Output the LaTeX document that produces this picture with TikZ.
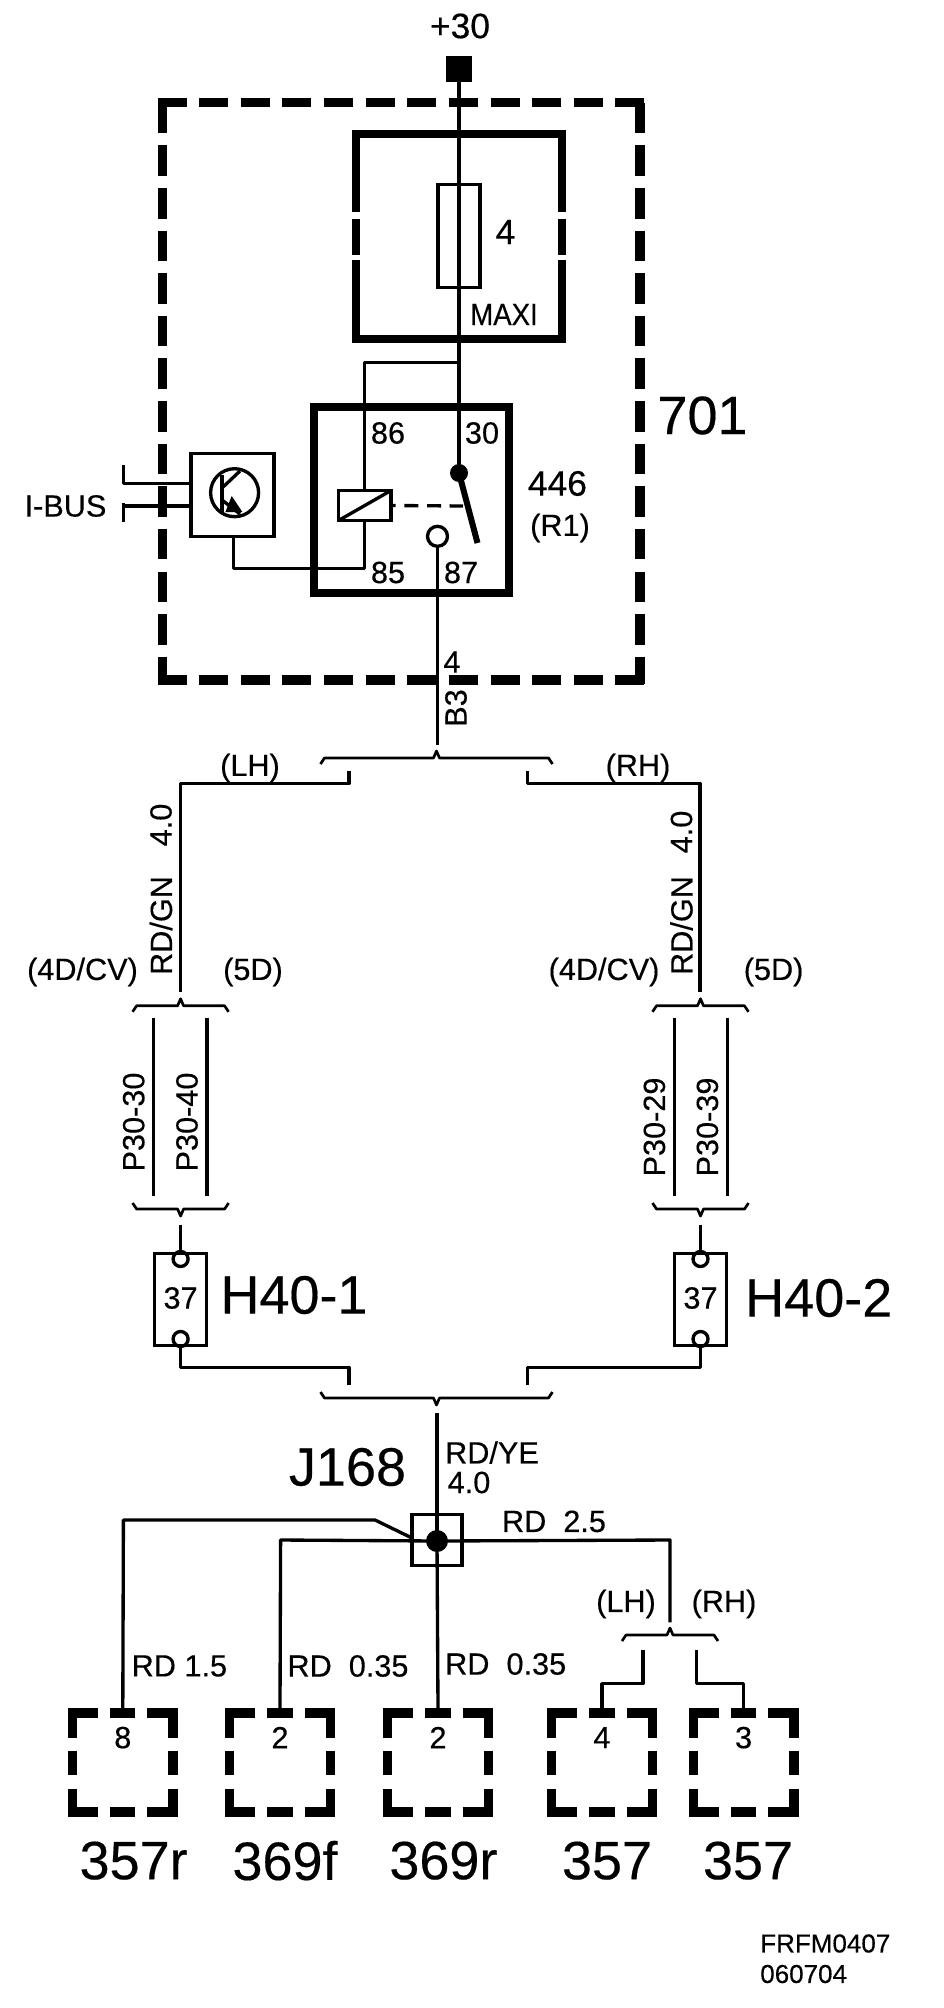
\documentclass[tikz,border=0pt]{standalone}
\usepackage{fontspec}
\setmainfont{Liberation Sans}[FakeBold=0.35]
\tikzset{
    wire/.style={line width=2.5pt,line join=round},
    thinwire/.style={line width=2pt,line join=round},
    thickline/.style={line width=6pt},
    dashline/.style={line width=7pt},
    boxnode/.style 2 args={draw,line width=2.6pt,inner sep=0pt,outer sep=0pt,minimum width=#1*.75pt,minimum height=#2*.75pt},
    ringnode/.style={draw,circle,line width=2.5pt,inner sep=0pt,outer sep=0pt,minimum size=#1*.75pt},
    dotnode/.style={fill=black,circle,inner sep=0pt,outer sep=0pt,minimum size=#1*.75pt},
    labt/.style={inner sep=0pt,font=\fontsize{19.5}{22}\selectfont},
    labs/.style={inner sep=0pt,font=\fontsize{23}{26}\selectfont},
    labm/.style={inner sep=0pt,font=\fontsize{26.5}{30}\selectfont},
    labl/.style={inner sep=0pt,font=\fontsize{40.5}{44}\selectfont},
    vlab/.style={labs,rotate=90},
}
\newcommand\wirebrace[4]{%
    \draw[thinwire] ({#1-#3},{#2-#4*6}) -- ({#1-#3+4},#2) -- ({#1-3},#2) -- (#1,{#2+#4*7}) -- ({#1+3},#2) -- ({#1+#3-4},#2) -- ({#1+#3},{#2-#4*6});
}
\begin{document}
\begin{tikzpicture}[x=.75pt,y=-.75pt]
    \useasboundingbox (0,0) rectangle (944,2008);
    % module 701
    \draw[dashline,dash pattern=on 21.75pt off 9.47pt] (157.5,102.5) -- (645,102.5);
    \draw[dashline,dash pattern=on 21.75pt off 9.47pt] (157.5,680) -- (645,680);
    \draw[dashline,dash pattern=on 22.9pt off 9.05pt] (162.5,102.9) -- (162.5,684);
    \draw[dashline,dash pattern=on 22.9pt off 9.05pt] (640,102.9) -- (640,684);
    % maxi fuse holder
    \draw[thickline] (356,212) -- (356,134) -- (562,134) -- (562,212);
    \draw[thickline] (356,219.5) -- (356,255) (562,219.5) -- (562,255);
    \draw[thickline] (356,260) -- (356,339) -- (562,339) -- (562,260);
    \node[boxnode={41.6}{103}] (fuse) at (459,236) {};
    \node[labm] (fusenum) at (505.5,232) {4};
    \node[labs,xscale=.9] (maxi) at (504,314.5) {MAXI};
    % relay 446
    \node[draw,line width=6pt,inner sep=0pt,outer sep=0pt,minimum width=146.25pt,minimum height=139.5pt] (relay) at (411.5,500) {};
    \node[dotnode=18] (pivot) at (459,473) {};
    \node[boxnode={52.5}{30}] (coil) at (364.8,505.5) {};
    \node[ringnode=20] (pin87) at (437.5,536.3) {};
    \coordinate (armend) at (477.5,543);
    \draw[line width=4.5pt] (pivot.center) -- (armend);
    \draw[wire] (coil.south west) -- (coil.north east);
    \coordinate (armlink) at (463,506);
    \draw[wire,dash pattern=on 10.5pt off 6.5pt,dash phase=7pt] (coil.east) -- (armlink);
    \node[labs] (t86) at (388,433) {86};
    \node[labs] (t30) at (482,433) {30};
    \node[labs] (t85) at (388,572.5) {85};
    \node[labs] (t87) at (461,572.5) {87};
    \node[labm] (t446) at (557.4,483.5) {446};
    \node[labs] (tr1) at (560,528) {(R1)};
    \node[labl] (t701) at (702.5,415.5) {701};
    % bus transistor
    \node[boxnode={83}{83}] (tbox) at (232.7,495) {};
    \node[ringnode=48] (tring) at (234.6,492.7) {};
    \draw[wire] (222,475) -- (222,512);
    \draw[wire] (222,488) -- (240,471);
    \draw[wire] (222,500) -- (240,514);
    \fill (231.7,496) -- (225.4,512) -- (242.4,512) -- cycle;
    \coordinate (bus1) at (123.6,483.5);
    \coordinate (bus2) at (123.6,506);
    \draw[wire] (tbox.west |- bus1) -- (bus1) -- +(0,-18.5);
    \draw[wire] (tbox.west |- bus2) -- (bus2);
    \draw[wire] (123.6,503) -- (123.6,522);
    \node[labs] (ibus) at (65.5,506) {I-BUS};
    % supply
    \node[labm] (plus30) at (460,26) {+30};
    \node[fill=black,inner sep=0pt,minimum size=19.5pt] (feed) at (459,69) {};
    \coordinate (tap) at (459,362.7);
    \coordinate (relbend) at (233.6,568.4);
    \draw[wire] (feed) -- (pivot.center);
    \draw[wire] (coil.north) |- (tap);
    \draw[wire] (coil.south) |- (relbend) -- (relbend |- tbox.south);
    \coordinate (split1) at (437.5,744.6);
    \draw[wire] (pin87.south) -- (split1);
    \node[labs] (t4) at (452,662) {4};
    \node[vlab] (tb3) at (456,708) {B3};
    % upper split
    \wirebrace{436.5}{758}{116}{-1}
    \coordinate (lhend) at (349,771.4);
    \coordinate (lhcorner) at (180.6,783.5);
    \coordinate (lhdown) at (180.6,991.5);
    \coordinate (rhend) at (527.4,771.4);
    \coordinate (rhcorner) at (700,783.5);
    \coordinate (rhdown) at (700,991.5);
    \draw[wire] (lhend) |- (lhcorner) -- (lhdown);
    \draw[wire] (rhend) |- (rhcorner) -- (rhdown);
    \node[labs] (lh1) at (250,768) {(LH)};
    \node[labs] (rh1) at (638,768) {(RH)};
    \node[vlab] (lsize) at (161,825) {4.0};
    \node[vlab] (lcol) at (161,925.5) {RD/GN};
    \node[vlab] (rsize) at (681.5,832) {4.0};
    \node[vlab] (rcol) at (681.5,925.5) {RD/GN};
    \node[labs] (l4d) at (82.5,972) {(4D/CV)};
    \node[labs] (l5d) at (253,972) {(5D)};
    \node[labs] (r4d) at (604,972) {(4D/CV)};
    \node[labs] (r5d) at (773.6,972) {(5D)};
    % body variants
    \wirebrace{180.6}{1005.8}{48}{-1}
    \wirebrace{700.5}{1005.8}{48}{-1}
    \wirebrace{180.6}{1209}{48}{1}
    \wirebrace{700.5}{1209}{48}{1}
    \foreach \x/\nm in {153.5/la,207/lb,674.3/ra,727.3/rb}{
        \coordinate (var\nm t) at (\x,1017.9);
        \coordinate (var\nm b) at (\x,1196.4);
        \draw[wire] (var\nm t) -- (var\nm b);
    }
    \node[vlab] (p3030) at (133.7,1122) {P30-30};
    \node[vlab] (p3040) at (187,1122) {P30-40};
    \node[vlab] (p3029) at (654.4,1127) {P30-29};
    \node[vlab] (p3039) at (707.4,1127) {P30-39};
    % fuses H40
    \node[boxnode={52}{92}] (hleft) at (180.6,1299.6) {};
    \node[boxnode={52}{92}] (hright) at (700.5,1299.6) {};
    \node[ringnode=15] (hlt) at (180.6,1259) {};
    \node[ringnode=15] (hlb) at (180.6,1339) {};
    \node[ringnode=15] (hrt) at (700.5,1259) {};
    \node[ringnode=15] (hrb) at (700.5,1339) {};
    \node[labs] (t37a) at (180.6,1298) {37};
    \node[labs] (t37b) at (700.5,1298) {37};
    \node[labl] (h401) at (294,1295) {H40-1};
    \node[labl] (h402) at (818.8,1298) {H40-2};
    \coordinate (lstub) at (180.6,1224.5);
    \coordinate (rstub) at (700.5,1224.5);
    \coordinate (ljoin) at (349,1385);
    \coordinate (rjoin) at (527.4,1385);
    \coordinate (lbend) at (180.6,1367.4);
    \coordinate (rbend) at (700.5,1367.4);
    \draw[wire] (lstub) -- (hlt.north);
    \draw[wire] (rstub) -- (hrt.north);
    \draw[wire] (hlb.south) -- (lbend) -| (ljoin);
    \draw[wire] (hrb.south) -- (rbend) -| (rjoin);
    \wirebrace{436.5}{1398}{116}{1}
    % splice J168
    \node[boxnode={50}{51}] (splice) at (437,1540) {};
    \node[dotnode=22] (sdot) at (437,1541) {};
    \node[labl] (j168) at (347.5,1467) {J168};
    \node[labs] (rdye) at (492,1452.5) {RD/YE};
    \node[labs] (t40) at (469,1482.5) {4.0};
    \node[labs] (rd25) at (554,1521.4) {RD\ \ 2.5};
    \coordinate (jtop) at (437,1413);
    \draw[wire] (jtop) -- (sdot.center);
    % connectors
    \foreach \x/\pin/\nm/\lx/\txt in {122.8/8/a/133.6/357r,280/2/b/285/369f,438/2/c/443.4/369r,602/4/d/607/357,743.6/3/e/748/357}{
        \coordinate (conn\nm) at (\x,1708.4);
        \draw[dashline,dash pattern=on 22.5pt off 9pt on 19.1pt off 9pt on 22.5pt] ({\x-54.8},1713) -- ({\x+54.8},1713);
        \draw[dashline,dash pattern=on 22.5pt off 9pt on 19.1pt off 9pt on 22.5pt] ({\x-54.8},1812) -- ({\x+54.8},1812);
        \draw[dashline,dash pattern=on 21.9pt off 9.75pt on 18pt off 10.5pt on 21pt] ({\x-50.3},1708.4) -- ({\x-50.3},1816.5);
        \draw[dashline,dash pattern=on 21.9pt off 9.75pt on 18pt off 10.5pt on 21pt] ({\x+50.3},1708.4) -- ({\x+50.3},1816.5);
        \node[labs] (pin\nm) at (\x,1737.6) {\pin};
        \node[labl] (name\nm) at (\lx,1860.6) {\txt};
    }
    \coordinate (bend1) at (375,1520);
    \coordinate (corner1) at (123.4,1520);
    \coordinate (corner2) at (280.6,1540);
    \coordinate (corner3) at (670,1540);
    \coordinate (rhtop) at (670,1622.3);
    \draw[wire] (splice.west |- 0,1538) -- (bend1) -- (corner1) -- (conna);
    \draw[wire] (sdot.center) -- (corner2) -- (connb);
    \draw[wire] (sdot.center) -- (connc);
    \draw[wire] (sdot.center) -- (corner3) -- (rhtop);
    \wirebrace{670}{1635}{48}{-1}
    \coordinate (legl) at (643,1650);
    \coordinate (legr) at (696.6,1650);
    \draw[wire] (legl) |- (connd |- 0,1683.6) -- (connd);
    \draw[wire] (legr) |- (conne |- 0,1683.6) -- (conne);
    \node[labs] (lh2) at (626,1604) {(LH)};
    \node[labs] (rh2) at (724,1604) {(RH)};
    \node[labs] (rd15) at (179.4,1666) {RD 1.5};
    \node[labs] (rd35a) at (348,1666) {RD\ \ 0.35};
    \node[labs] (rd35b) at (505.7,1664) {RD\ \ 0.35};
    \node[labt,anchor=west] (code1) at (760,1943.5) {FRFM0407};
    \node[labt,anchor=west] (code2) at (760,1974) {060704};
\end{tikzpicture}
\end{document}
